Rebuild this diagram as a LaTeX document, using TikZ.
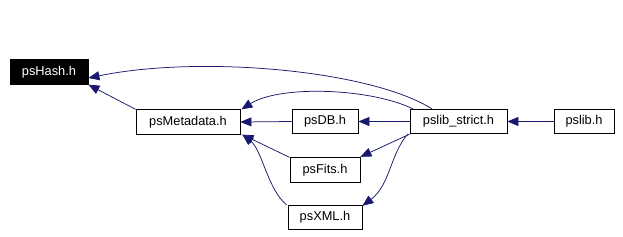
\documentclass[tikz,border=0pt]{standalone}
\usepackage{fontspec}
\setmainfont{Liberation Sans}
\usetikzlibrary{arrows.meta}
\definecolor{edgeblue}{HTML}{191970}
\begin{document}
\begin{tikzpicture}[x=1pt,y=-1pt,
  box/.style={draw=black,line width=0.8pt,fill=white,inner sep=0pt,minimum height=24.5pt,font=\fontsize{12.8}{15}\selectfont},
  dark/.style={box,fill=black,text=white},
  dep/.style={draw=edgeblue,line width=0.75pt,-{Triangle[length=11pt,width=9pt]},edgeblue}]
\useasboundingbox[fill=white] (0,0) rectangle (623,236);
\node[dark,minimum width=78pt] (hash) at (49,72) {psHash.h};
\node[box,minimum width=104pt] (meta) at (188,122) {psMetadata.h};
\node[box,minimum width=66pt] (db) at (325,121.5) {psDB.h};
\node[box,minimum width=97pt] (strict) at (458.5,121.5) {pslib\_strict.h};
\node[box,minimum width=60pt] (lib) at (584,121.5) {pslib.h};
\node[box,minimum width=70pt] (fits) at (325,170) {psFits.h};
\node[box,minimum width=74pt] (xml) at (325,217.5) {psXML.h};
% edges
\draw[dep] ([xshift=-26.5pt]strict.north) .. controls (370,70) and (200,55) .. ([yshift=-6pt]hash.east);
\draw[dep] (meta.north west) -- (hash.south east);
\draw[dep] ([xshift=-45.5pt]strict.north) .. controls (370,88) and (280,85) .. ([xshift=1pt]meta.north east);
\draw[dep] (db.west) -- (meta.east);
\draw[dep] (strict.west) -- (db.east);
\draw[dep] (lib.west) -- (strict.west -| strict.east);
\draw[dep] (strict.south west) -- ([yshift=0.5pt]fits.north east);
\draw[dep] ([xshift=-2pt]strict.south west) .. controls (390,155) and (390,185) .. ([yshift=-1pt]xml.north east);
\draw[dep] (fits.north west) -- ([xshift=2pt]meta.south east);
\draw[dep] ([xshift=-1pt]xml.north west) .. controls (268,190) and (262,150) .. ([xshift=2pt]meta.south east);
\end{tikzpicture}
\end{document}
